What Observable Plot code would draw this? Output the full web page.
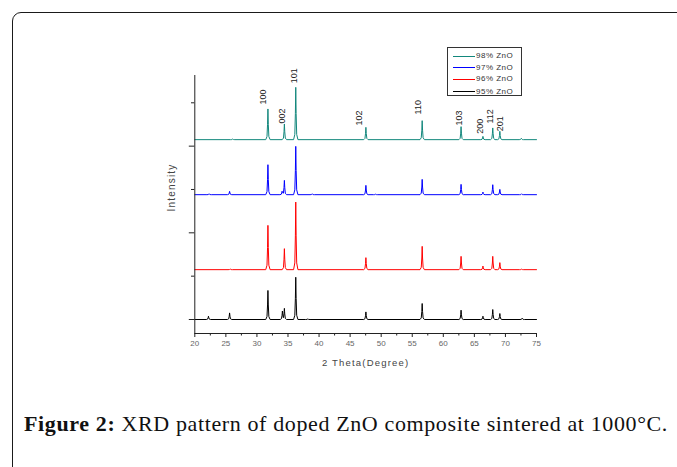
<!DOCTYPE html>
<html><head><meta charset="utf-8">
<script src="https://cdn.jsdelivr.net/npm/d3@7"></script>
<script src="https://cdn.jsdelivr.net/npm/@observablehq/plot@0.6"></script>
<style>
body{margin:0;background:#fff;}
#page{position:relative;width:677px;height:467px;overflow:hidden;background:#fff;}
#frame{position:absolute;left:12px;top:12px;width:720px;height:520px;border:1.5px solid #1a1a1a;border-top-left-radius:9px;box-sizing:border-box;}
#chart{position:absolute;left:0;top:0;}
#legend{position:absolute;left:447px;top:47px;width:75px;height:49px;border:1px solid #333;box-sizing:border-box;font-family:"Liberation Sans",Arial,sans-serif;font-size:8px;letter-spacing:0.5px;color:#333;background:#fff}
.row{position:absolute;left:0;height:10px;line-height:10px;display:flex;align-items:center;white-space:nowrap}
.row span.l{display:inline-block;width:22px;height:0;border-top:1px solid;margin-left:5px;margin-right:1px}
#caption{position:absolute;left:24px;top:411px;font-family:"Liberation Serif",serif;font-size:22px;color:#111;white-space:nowrap}
#caption b{font-weight:bold}
</style></head>
<body>
<div id="page">
<div id="frame"></div>
<div id="chart"></div>
<div id="legend"></div>
<div id="caption"><b>Figure 2:</b> XRD pattern of doped ZnO composite sintered at 1000°C.</div>
</div>
<script>
// ---- data (2θ in degrees, intensity in arbitrary units) ----
const seriesNames = ["98% ZnO", "97% ZnO", "96% ZnO", "95% ZnO"];
const seriesColors = ["#12877c", "#0000ff", "#ff0000", "#000000"];
const seriesOffsets = [4150, 2880, 1150, 0];

const peaks98 = [[26.1,15],[31.77,708],[34.42,362],[36.25,1207],[47.54,284],[56.6,438],[62.86,300],[66.38,76],[67.96,270],[69.1,192],[72.56,30]];
const peaks97 = [[22.3,20],[25.6,76],[31.77,692],[34.05,80],[34.42,330],[36.25,1115],[38.9,20],[47.54,215],[49.1,12],[56.6,353],[62.86,238],[66.38,60],[67.96,230],[69.1,122],[72.6,20]];
const peaks96 = [[25.7,15],[31.77,1022],[34.42,485],[36.25,1560],[47.54,277],[56.6,538],[62.86,307],[66.38,83],[67.96,307],[69.1,162],[72.6,12]];
const peaks95 = [[22.2,76],[25.6,152],[31.77,670],[34.1,192],[34.42,254],[36.25,975],[38.2,15],[47.54,175],[56.6,369],[62.86,215],[66.38,76],[67.96,230],[69.1,138],[72.7,30]];
const seriesPeaks = [peaks98, peaks97, peaks96, peaks95];

const hklLabels = ["100","002","101","102","110","103","200","112","201"];
const hklX = [31.0, 34.0, 36.0, 46.5, 56.0, 62.5, 65.9, 67.5, 69.2];
const hklY = [4962, 4523, 5453, 4477, 4731, 4477, 4286, 4523, 4346];

const xMajorTicks = [20,25,30,35,40,45,50,55,60,65,70,75];
const xMinorTicks = [22.5,27.5,32.5,37.5,42.5,47.5,52.5,57.5,62.5,67.5,72.5];
const yMajorTicks = [0,2000,4000];
const yMinorTicks = [1000,3000,5000];
const xDomain = [20, 75];
const yDomain = [-323, 5630];

// peak profile shape (relative 2θ offset, relative height)
const profile = [[-0.35,0],[-0.15,0.1],[-0.06,0.5],[0,1],[0.06,0.5],[0.15,0.1],[0.35,0]];

function peakValue(p, x) {
  const d = x - p[0];
  if (d <= profile[0][0] || d >= profile[profile.length-1][0]) return 0;
  for (let i = 1; i < profile.length; i++) {
    if (d <= profile[i][0]) {
      const [a0,h0] = profile[i-1], [a1,h1] = profile[i];
      return p[1] * (h0 + (h1-h0)*(d-a0)/(a1-a0));
    }
  }
  return 0;
}

const lineData = [];
seriesPeaks.forEach((pk, s) => {
  const xs = new Set([xDomain[0], xDomain[1]]);
  pk.forEach(p => profile.forEach(([a]) => xs.add(+(p[0]+a).toFixed(3))));
  const sorted = [...xs].sort((a,b)=>a-b);
  sorted.forEach(x => {
    let v = 0; pk.forEach(p => v += peakValue(p, x));
    lineData.push({series: seriesNames[s], order: s, x, y: v + seriesOffsets[s]});
  });
});
const drawOrder = [3,2,1,0];

const axisFont = '"Liberation Sans", Arial, sans-serif';

const marks = [
  ...drawOrder.map(s => Plot.line(lineData.filter(d => d.order === s), {x:"x", y:"y", stroke: seriesColors[s], strokeWidth: 1})),
  Plot.ruleX([xDomain[0]], {stroke:"#222", strokeWidth:1}),
  Plot.ruleY([yDomain[0]], {stroke:"#222", strokeWidth:1}),
  Plot.axisX({ticks: xMajorTicks, tickSize: 4, tickPadding: 3, fontSize: 8, label: null, stroke:"#222", fill:"#666", tickFormat: d => String(d)}),
  Plot.axisX({ticks: xMinorTicks, tickSize: 2.5, label: null, stroke:"#222", tickFormat: () => ""}),
  Plot.axisY({ticks: yMajorTicks, tickSize: 5.5, label: null, stroke:"#222", tickFormat: () => ""}),
  Plot.axisY({ticks: yMinorTicks, tickSize: 3.3, label: null, stroke:"#222", tickFormat: () => ""}),
  Plot.text(hklLabels, {x: (d,i) => hklX[i], y: (d,i) => hklY[i], text: d => d, rotate: -90, textAnchor: "start", fontSize: 9, fill: "#222"}),
  Plot.text(["2 Theta(Degree)"], {frameAnchor: "bottom", dy: 32, text: d => d, fontSize: 9.5, fill: "#444"}),
  Plot.text(["Intensity"], {frameAnchor: "left", dx: -23, dy: 7, rotate: -90, text: d => d, fontSize: 10, fill: "#444"})
];

const chart = Plot.plot({
  width: 677, height: 380,
  marginLeft: 194.3, marginRight: 141, marginTop: 75, marginBottom: 47,
  x: {domain: xDomain},
  y: {domain: yDomain},
  style: {fontFamily: axisFont, background: "transparent", overflow: "visible"},
  marks
});
chart.querySelectorAll("text").forEach(t => {
  if (t.textContent === "Intensity" || t.textContent === "2 Theta(Degree)") t.setAttribute("letter-spacing", "1.2");
});
document.getElementById("chart").appendChild(chart);

// legend
const legend = document.getElementById("legend");
const rowTops = [3, 14.7, 26.3, 38.7];
seriesNames.forEach((n, i) => {
  const r = document.createElement("div");
  r.className = "row";
  r.style.top = rowTops[i] + "px";
  r.innerHTML = `<span class="l" style="border-color:${seriesColors[i]}"></span><span>${n}</span>`;
  legend.appendChild(r);
});

// stretch caption to the reference's width
const cap = document.getElementById("caption");
const targetW = 644;
const w0 = cap.getBoundingClientRect().width;
const nChars = cap.textContent.length;
cap.style.letterSpacing = ((targetW - w0) / nChars) + "px";
</script>
</body></html>
